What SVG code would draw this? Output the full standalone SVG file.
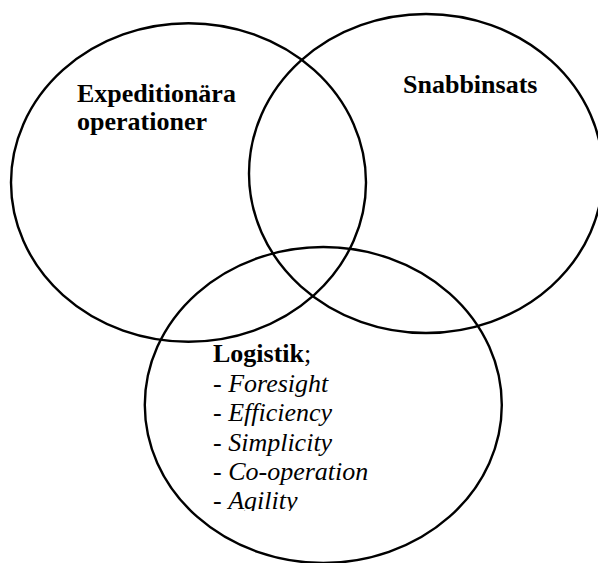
<svg xmlns="http://www.w3.org/2000/svg" width="598" height="563" viewBox="0 0 598 563">
  <style>
    .ring { fill: none; stroke: #000; stroke-width: 2.4; }
    .lbl { font-family: "Liberation Serif", "Times New Roman", serif; font-size: 26px; fill: #000; }
    .b { font-weight: bold; }
    .i { font-style: italic; }
  </style>
  <defs>
    <clipPath id="clipList">
      <rect x="200" y="330" width="250" height="181"/>
    </clipPath>
  </defs>
  <rect width="598" height="563" fill="#fff"/>
  <g id="expeditionara">
    <ellipse class="ring" cx="188.5" cy="182.5" rx="177.5" ry="159.2"/>
    <text class="lbl b" x="77" y="101.5">Expeditionära</text>
    <text class="lbl b" x="77" y="130">operationer</text>
  </g>
  <g id="snabbinsats">
    <ellipse class="ring" cx="426" cy="173.5" rx="177" ry="159.5"/>
    <text class="lbl b" x="403" y="92.5">Snabbinsats</text>
  </g>
  <g id="logistik">
    <ellipse class="ring" cx="323.3" cy="405" rx="178.5" ry="158"/>
    <g clip-path="url(#clipList)">
      <text class="lbl" x="213" y="362"><tspan class="b">Logistik</tspan>;</text>
      <text class="lbl" x="213" y="391.5">- <tspan class="i">Foresight</tspan></text>
      <text class="lbl" x="213" y="421">- <tspan class="i">Efficiency</tspan></text>
      <text class="lbl" x="213" y="450.5">- <tspan class="i">Simplicity</tspan></text>
      <text class="lbl" x="213" y="480">- <tspan class="i">Co-operation</tspan></text>
      <text class="lbl" x="213" y="509">- <tspan class="i">Agility</tspan></text>
    </g>
  </g>
  <g id="connectors"></g>
</svg>
